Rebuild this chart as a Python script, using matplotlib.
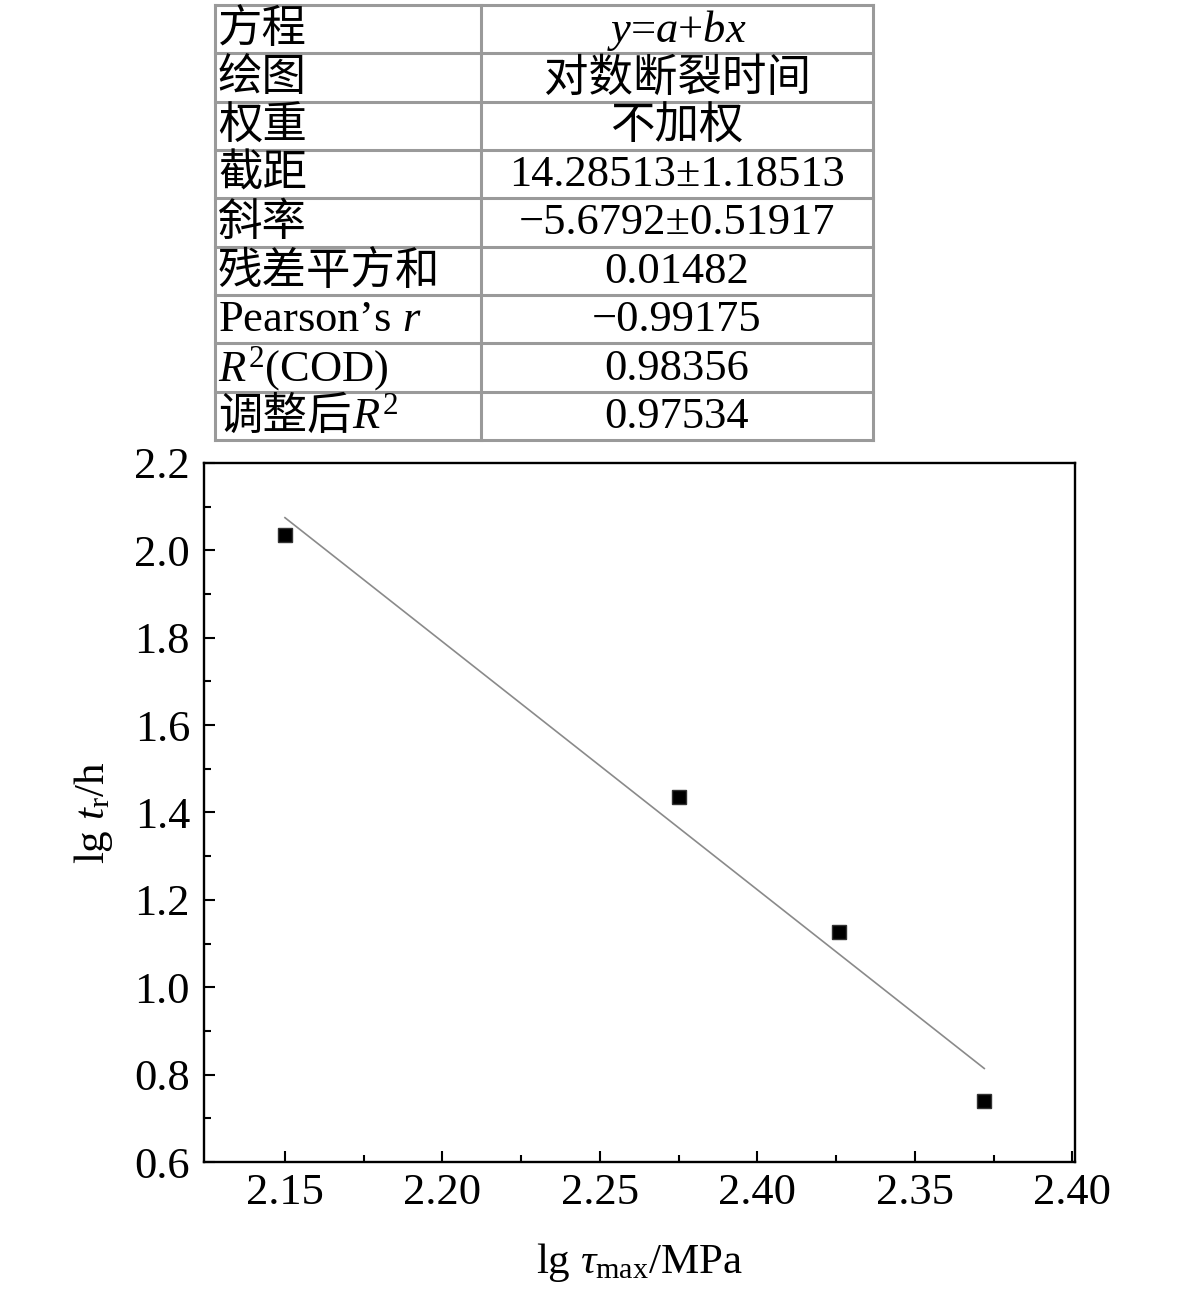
import numpy as np
import matplotlib
matplotlib.use("Agg")
import matplotlib.pyplot as plt
from matplotlib.ticker import MultipleLocator, FixedLocator, FixedFormatter

plt.rcParams['font.family'] = ['Liberation Serif', 'Noto Sans CJK SC']
plt.rcParams['mathtext.fontset'] = 'custom'
plt.rcParams['mathtext.rm'] = 'Liberation Serif'
plt.rcParams['mathtext.it'] = 'Liberation Serif:italic'
plt.rcParams['mathtext.bf'] = 'Liberation Serif:bold'

# data
lg_tau_max = [2.150, 2.275, 2.326, 2.372]
lg_t_r = [2.035, 1.436, 1.127, 0.740]

# fit results (from the table)
fit_a = 14.28513
fit_b = -5.6792

x_ticks = [2.15, 2.20, 2.25, 2.30, 2.35, 2.40]
x_minor = [2.175, 2.225, 2.275, 2.325, 2.375]
x_ticklabels = ["2.15", "2.20", "2.25", "2.40", "2.35", "2.40"]

table_keys = ["方程", "绘图", "权重", "截距", "斜率", "残差平方和",
              "Pearson’s $r$", "$R^2$(COD)", "调整后|$R^2$"]
table_vals = ["$y$=$a$+$bx$", "对数断裂时间", "不加权", "14.28513±1.18513",
              "−5.6792±0.51917", "0.01482", "−0.99175", "0.98356", "0.97534"]

W, H = 1181, 1297
fig = plt.figure(figsize=(W / 100, H / 100), dpi=100)

# ---- plot ----
ax = fig.add_axes([204 / W, 1 - 1162 / H, (1075 - 204) / W, (1162 - 463) / H])
ax.plot(lg_tau_max, lg_t_r, 's', color='black', mec='#333333', markersize=10, zorder=3)
xs = np.array([min(lg_tau_max), max(lg_tau_max)])
ax.plot(xs, fit_a + fit_b * xs, color='#8a8a8a', lw=1.2)

ax.set_xlim(2.1243, 2.4008)
ax.set_ylim(0.6, 2.2)
ax.xaxis.set_major_locator(FixedLocator(x_ticks))
ax.xaxis.set_major_formatter(FixedFormatter(x_ticklabels))
ax.xaxis.set_minor_locator(FixedLocator(x_minor))
ax.yaxis.set_major_locator(MultipleLocator(0.2))
ax.yaxis.set_minor_locator(MultipleLocator(0.1))
ax.yaxis.set_major_formatter(plt.FormatStrFormatter('%.1f'))
ax.tick_params(which='both', direction='in', top=False, right=False,
               width=1.5, labelsize=32)
ax.tick_params(which='major', length=8)
ax.tick_params(which='minor', length=5)
ax.tick_params(axis='x', pad=8)
ax.tick_params(axis='y', pad=10)
for s in ax.spines.values():
    s.set_linewidth(1.7)

ax.set_xlabel(r"lg $\tau_{\mathrm{max}}$/MPa", fontsize=31, labelpad=20)
ax.set_ylabel(r"lg $t_{\mathrm{r}}$/h", fontsize=31, labelpad=14)

# ---- fit table ----
tx0, tx1, tmid = 215, 873, 481
ty0, ty1 = 5, 440
nrow = len(table_keys)
rh = (ty1 - ty0) / nrow
line_kw = dict(color='#9a9a9a', lw=2.2)
tax = fig.add_axes([0, 0, 1, 1])
tax.set_xlim(0, W)
tax.set_ylim(H, 0)
tax.axis('off')
for i in range(nrow + 1):
    y = ty0 + i * rh
    tax.plot([tx0, tx1], [y, y], **line_kw)
for x in (tx0, tmid, tx1):
    tax.plot([x, x], [ty0, ty1], **line_kw)

fs = 32
renderer = fig.canvas.get_renderer()
for i, (k, v) in enumerate(zip(table_keys, table_vals)):
    yc = ty0 + (i + 0.5) * rh + 1
    xcur = tx0 + 3
    for p in k.split('|'):
        t = tax.text(xcur, yc, p, fontsize=fs, ha='left', va='center')
        xcur += t.get_window_extent(renderer).width
    tax.text((tmid + tx1) / 2, yc, v, fontsize=fs, ha='center', va='center')

fig.savefig("out.png", dpi=100)
